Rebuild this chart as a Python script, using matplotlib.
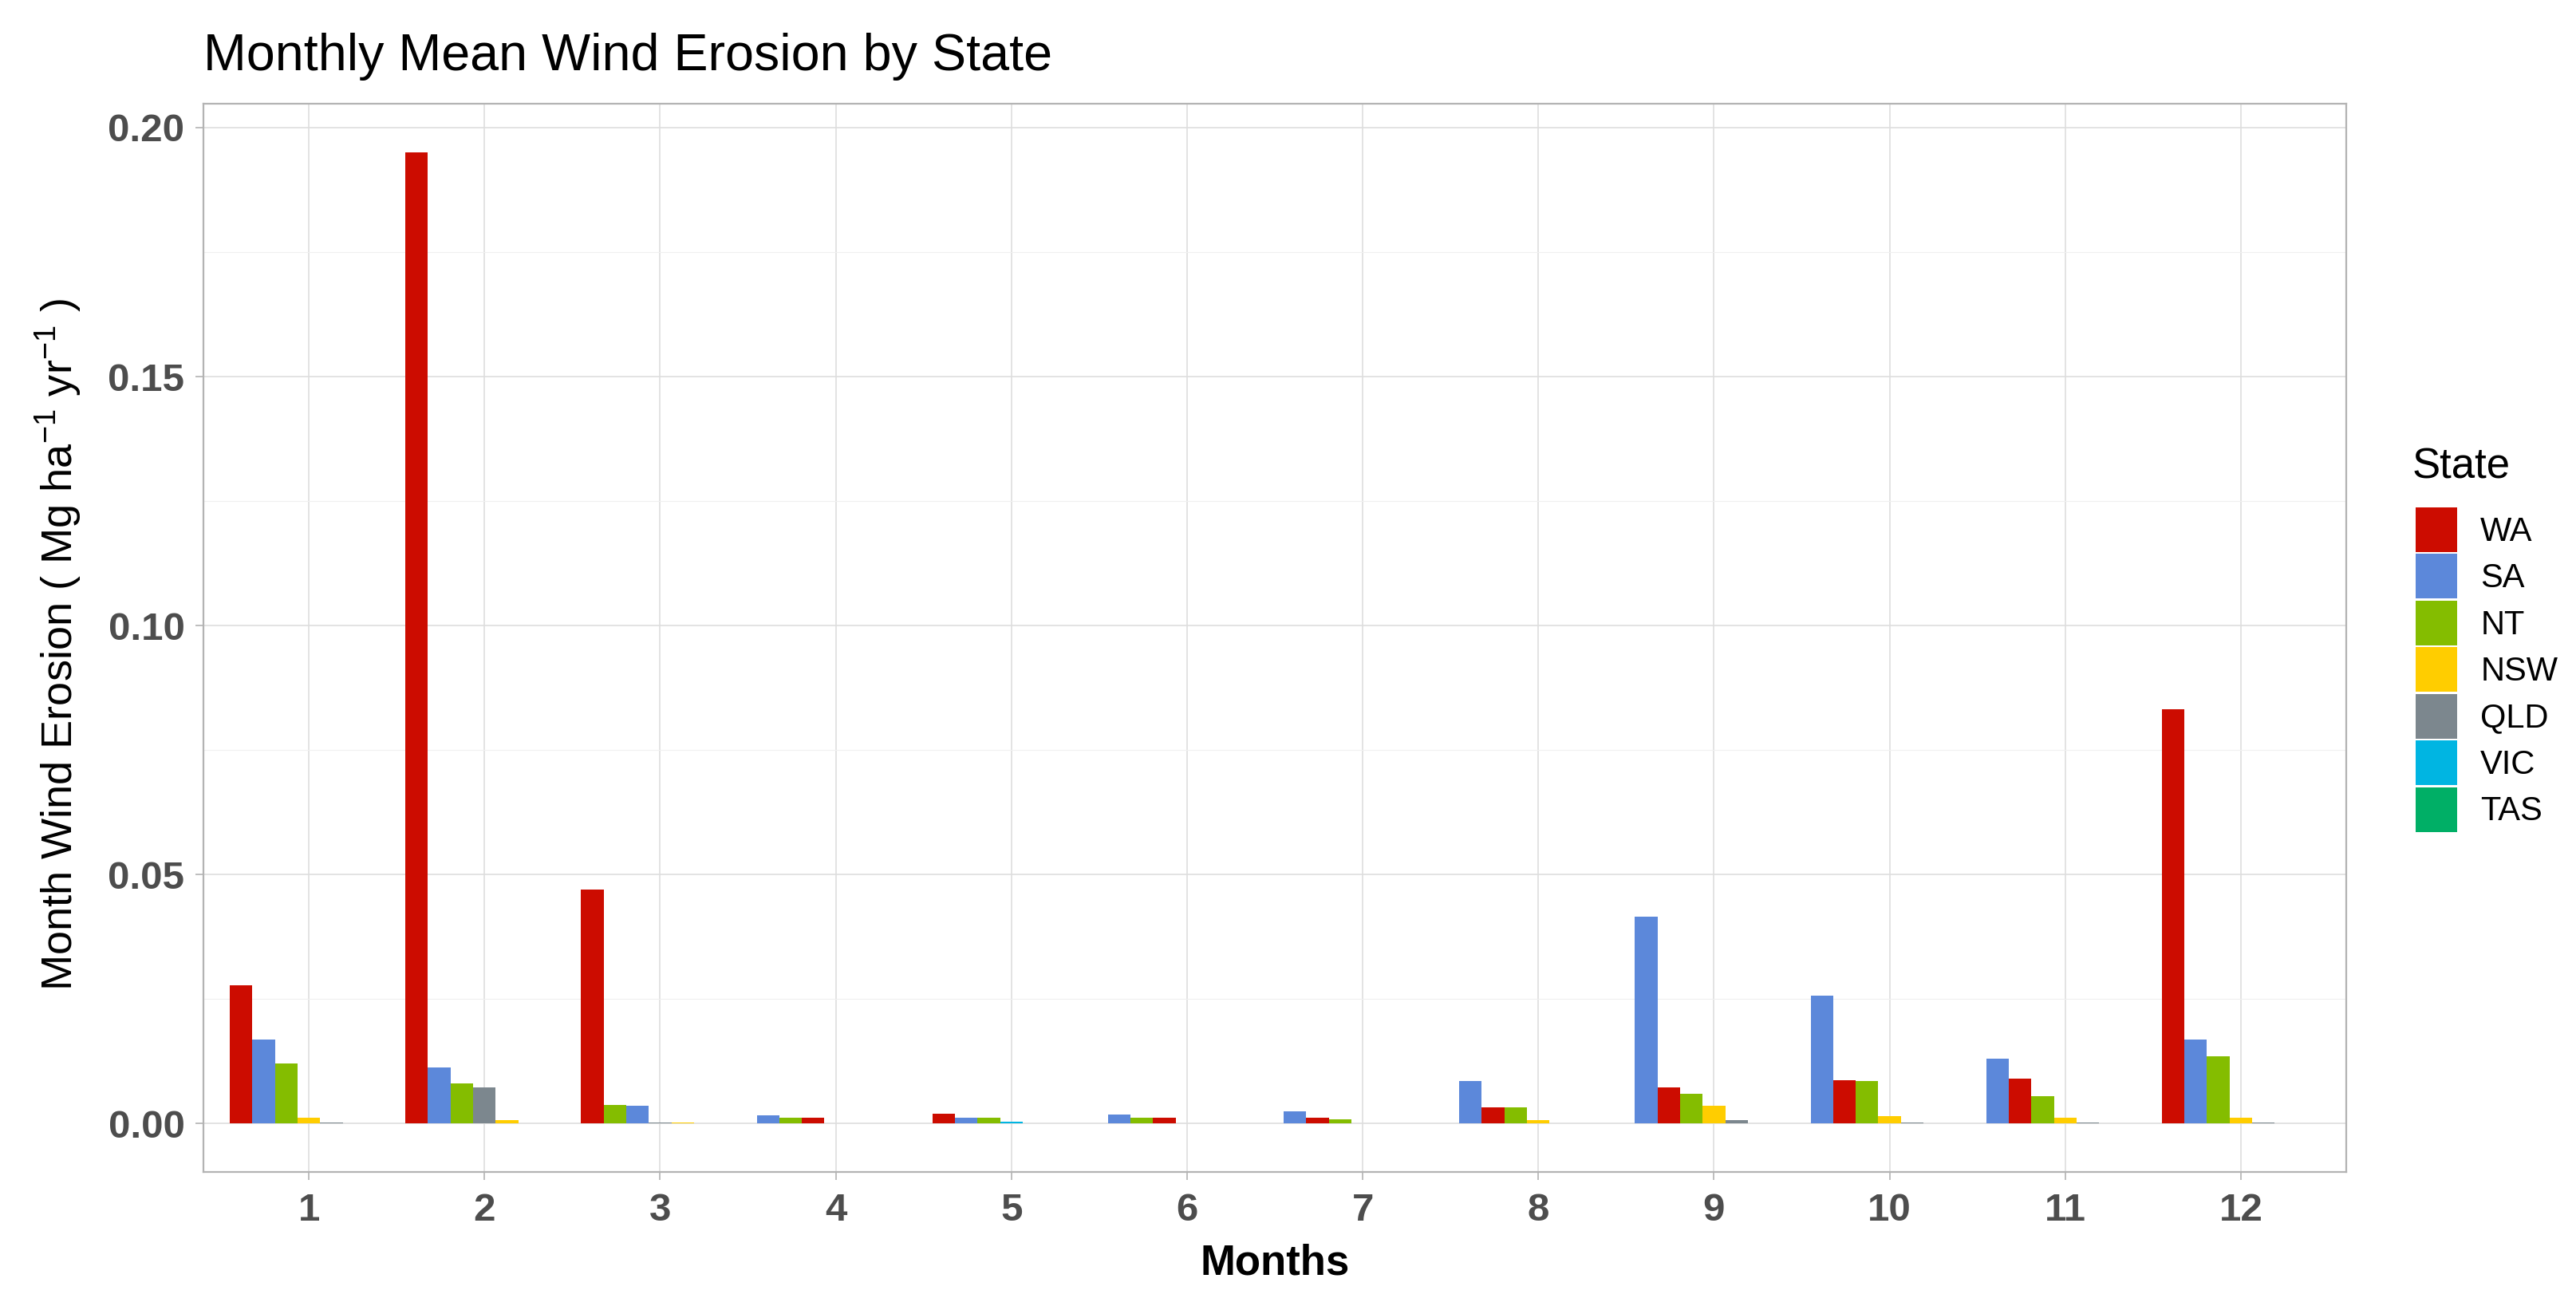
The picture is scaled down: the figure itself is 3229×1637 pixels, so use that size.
import matplotlib
matplotlib.use("Agg")
import matplotlib.pyplot as plt
from matplotlib.patches import Patch
import numpy as np

plt.rcParams['font.family'] = ['Liberation Sans', 'DejaVu Sans']
plt.rcParams['mathtext.fontset'] = 'custom'
plt.rcParams['mathtext.rm'] = 'Liberation Sans'
plt.rcParams['mathtext.it'] = 'Liberation Sans:italic'
plt.rcParams['mathtext.bf'] = 'Liberation Sans:bold'

# ---- data ----
months = [1, 2, 3, 4, 5, 6, 7, 8, 9, 10, 11, 12]
states = ["WA", "SA", "NT", "NSW", "QLD", "VIC", "TAS"]
WA = [0.0278, 0.1951, 0.0470, 0.00118, 0.0020, 0.00118, 0.0012, 0.0033, 0.0072, 0.0086, 0.0090, 0.0832]
SA = [0.0169, 0.0112, 0.0036, 0.00166, 0.0012, 0.0018, 0.0025, 0.0085, 0.0415, 0.0256, 0.0130, 0.0169]
NT = [0.0120, 0.0081, 0.0037, 0.0012, 0.00115, 0.0012, 0.00075, 0.0032, 0.0059, 0.0085, 0.0055, 0.0135]
NSW = [0.0011, 0.0006, 0.0002, 0.0001, 0.0, 0.0, 0.0001, 0.0006, 0.0036, 0.0015, 0.0012, 0.0012]
QLD = [0.0002, 0.0072, 0.00022, 0.0, 0.0, 0.0, 0.0, 0.0001, 0.0006, 0.0002, 0.0002, 0.0002]
VIC = [0.0, 0.0, 0.0, 0.0, 0.0003, 0.0, 0.0, 0.0, 0.0001, 0.0, 0.0, 0.0]
TAS = [0.0, 0.0, 0.0, 0.0, 0.0, 0.0, 0.0, 0.0, 0.0, 0.0, 0.0, 0.0]
colors = ["#CC0C00", "#5C88DA", "#84BD00", "#FFCD00", "#7C878E", "#00B5E2", "#00AF66"]
yticks = [0.00, 0.05, 0.10, 0.15, 0.20]
ytick_labels = ["0.00", "0.05", "0.10", "0.15", "0.20"]

values = np.array([WA, SA, NT, NSW, QLD, VIC, TAS])

W, H = 3230, 1637
fig = plt.figure(figsize=(W / 100, H / 100), dpi=100)
ax = fig.add_axes([255 / W, 1 - 1469 / H, (2941 - 255) / W, (1469 - 130) / H])

n = len(states)
w = 0.9 / n
for mi, m in enumerate(months):
    vals = values[:, mi]
    order = np.argsort(-vals, kind="stable")
    for slot, si in enumerate(order):
        ax.bar(m + (slot - (n - 1) / 2) * w, vals[si], width=w,
               color=colors[si], linewidth=0, zorder=3)

ax.set_xlim(0.4, 12.6)
ax.set_ylim(-0.00975, 0.2048)
ax.set_xticks(months)
ax.set_xticklabels([str(m) for m in months])
ax.set_yticks(yticks)
ax.set_yticklabels(ytick_labels)
ax.set_yticks(np.arange(0.025, 0.2, 0.05), minor=True)

ax.grid(which="major", axis="both", color="#DEDEDE", linewidth=1.2, zorder=0)
ax.grid(which="minor", axis="y", color="#F0F0F0", linewidth=0.8, zorder=0)
ax.set_axisbelow(True)

for sp in ax.spines.values():
    sp.set_color("#B3B3B3")
    sp.set_linewidth(1.6)

ax.tick_params(axis="both", which="major", length=7, width=1.2, color="#B3B3B3",
               labelcolor="#4D4D4D", labelsize=35.5)
ax.tick_params(axis="y", which="minor", length=0)
ax.tick_params(axis="x", pad=12)
ax.tick_params(axis="y", pad=10)
for lab in ax.get_xticklabels() + ax.get_yticklabels():
    lab.set_fontweight("bold")

ax.set_xlabel("Months", fontsize=38, fontweight="bold", color="black")
ax.xaxis.set_label_coords(0.5, -0.067)

fig.text(74 / W, 1 - 808 / H,
         r"Month Wind Erosion ( Mg ha$^{-1}$ yr$^{-1}$ )",
         rotation=90, ha="center", va="center", fontsize=39, color="black")

fig.text(255 / W, 1 - 88 / H, "Monthly Mean Wind Erosion by State",
         ha="left", va="baseline", fontsize=46.5, color="black")

# legend
fig.text(3024 / W, 1 - 585 / H, "State", ha="left", va="center",
         fontsize=38, color="black")
handles = [Patch(facecolor=c, edgecolor="none") for c in colors]
leg = fig.legend(handles, states, loc="upper left",
                 bbox_to_anchor=(3028 / W, 1 - 636 / H),
                 frameon=False, fontsize=30,
                 handlelength=1.25, handleheight=1.69, labelspacing=0.06,
                 handletextpad=0.7, borderpad=0, borderaxespad=0)

fig.savefig("out.png", dpi=100)
